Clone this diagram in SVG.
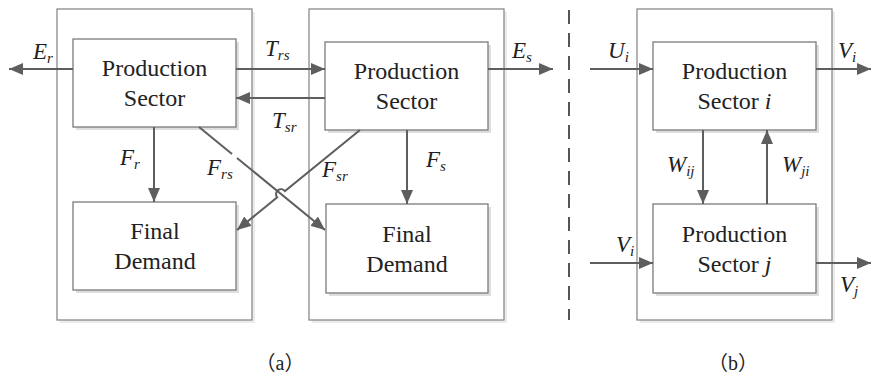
<svg xmlns="http://www.w3.org/2000/svg" width="872" height="380" viewBox="0 0 872 380">
<defs>
<marker id="ah" viewBox="0 0 14 12" refX="14" refY="6" markerWidth="14" markerHeight="12" markerUnits="userSpaceOnUse" orient="auto">
<path d="M0,0 L14,6 L0,12 z" fill="#5e5e5e"/>
</marker>
</defs>
<rect width="872" height="380" fill="#fff"/>

<g id="outer-boxes" fill="#fff" stroke="#8a8a8a" stroke-width="1.3">
<g id="outer-r"><rect x="60" y="12" width="195" height="311" fill="#ececec" stroke="none"/><rect x="57" y="9" width="195" height="311"/></g>
<g id="outer-s"><rect x="312" y="12" width="195" height="311" fill="#ececec" stroke="none"/><rect x="309" y="9" width="195" height="311"/></g>
<g id="outer-b"><rect x="640" y="12" width="195" height="311" fill="#ececec" stroke="none"/><rect x="637" y="9" width="195" height="311"/></g>
</g>
<line id="divider" x1="569" y1="10" x2="569" y2="320" stroke="#555" stroke-width="2" stroke-dasharray="14,9"/>

<g id="prod-r">
<rect x="76" y="42" width="163" height="88" fill="#dedede"/>
<rect x="73" y="39" width="163" height="88" fill="#fff" stroke="#7a7a7a" stroke-width="1.3"/>
<text x="154.5" y="76" font-family="Liberation Serif" font-size="24" text-anchor="middle" fill="#222">Production</text>
<text x="154.5" y="106" font-family="Liberation Serif" font-size="24" text-anchor="middle" fill="#222">Sector</text>
</g>
<g id="final-r">
<rect x="76" y="205" width="163" height="88" fill="#dedede"/>
<rect x="73" y="202" width="163" height="88" fill="#fff" stroke="#7a7a7a" stroke-width="1.3"/>
<text x="155" y="239" font-family="Liberation Serif" font-size="24" text-anchor="middle" fill="#222">Final</text>
<text x="155" y="269" font-family="Liberation Serif" font-size="24" text-anchor="middle" fill="#222">Demand</text>
</g>
<g id="prod-s">
<rect x="328" y="45" width="163" height="88" fill="#dedede"/>
<rect x="325" y="42" width="163" height="88" fill="#fff" stroke="#7a7a7a" stroke-width="1.3"/>
<text x="406.5" y="79" font-family="Liberation Serif" font-size="24" text-anchor="middle" fill="#222">Production</text>
<text x="406.5" y="109" font-family="Liberation Serif" font-size="24" text-anchor="middle" fill="#222">Sector</text>
</g>
<g id="final-s">
<rect x="329" y="207" width="162" height="89" fill="#dedede"/>
<rect x="326" y="204" width="162" height="89" fill="#fff" stroke="#7a7a7a" stroke-width="1.3"/>
<text x="407" y="242" font-family="Liberation Serif" font-size="24" text-anchor="middle" fill="#222">Final</text>
<text x="407" y="272" font-family="Liberation Serif" font-size="24" text-anchor="middle" fill="#222">Demand</text>
</g>
<g id="prod-i">
<rect x="656" y="45" width="163" height="88" fill="#dedede"/>
<rect x="653" y="42" width="163" height="88" fill="#fff" stroke="#7a7a7a" stroke-width="1.3"/>
<text x="734.5" y="79" font-family="Liberation Serif" font-size="24" text-anchor="middle" fill="#222">Production</text>
<text x="734.5" y="109" font-family="Liberation Serif" font-size="24" text-anchor="middle" fill="#222">Sector <tspan font-style="italic">i</tspan></text>
</g>
<g id="prod-j">
<rect x="656" y="207" width="163" height="89" fill="#dedede"/>
<rect x="653" y="204" width="163" height="89" fill="#fff" stroke="#7a7a7a" stroke-width="1.3"/>
<text x="734.5" y="242" font-family="Liberation Serif" font-size="24" text-anchor="middle" fill="#222">Production</text>
<text x="734.5" y="272" font-family="Liberation Serif" font-size="24" text-anchor="middle" fill="#222">Sector <tspan font-style="italic">j</tspan></text>
</g>

<g id="connectors" stroke="#5e5e5e" stroke-width="2" fill="none">
<line x1="73" y1="69" x2="9" y2="69" marker-end="url(#ah)"/>
<line x1="236" y1="69" x2="325" y2="69" marker-end="url(#ah)"/>
<line x1="325" y1="98" x2="236" y2="98" marker-end="url(#ah)"/>
<line x1="488" y1="69" x2="553" y2="69" marker-end="url(#ah)"/>
<line x1="154" y1="127" x2="154" y2="202" marker-end="url(#ah)"/>
<line x1="407" y1="130" x2="407" y2="204" marker-end="url(#ah)"/>
<path d="M199,127 L232,154"/>
<path d="M237,158 L325,230" marker-end="url(#ah)"/>
<path d="M360,130 L285,191 A5,5 0 0 0 277.2,197.4 L237,230" marker-end="url(#ah)"/>
<line x1="590" y1="69" x2="653" y2="69" marker-end="url(#ah)"/>
<line x1="816" y1="69" x2="871" y2="69" marker-end="url(#ah)"/>
<line x1="703" y1="130" x2="703" y2="204" marker-end="url(#ah)"/>
<line x1="767" y1="204" x2="767" y2="130" marker-end="url(#ah)"/>
<line x1="590" y1="263" x2="653" y2="263" marker-end="url(#ah)"/>
<line x1="816" y1="263" x2="871" y2="263" marker-end="url(#ah)"/>
</g>

<g id="labels" fill="#222">
<text x="33" y="59" font-family="Liberation Serif" font-size="23" font-style="italic">E<tspan font-size="15" dy="4">r</tspan></text>
<text x="265" y="56" font-family="Liberation Serif" font-size="23" font-style="italic">T<tspan font-size="15" dy="4">rs</tspan></text>
<text x="272" y="128" font-family="Liberation Serif" font-size="23" font-style="italic">T<tspan font-size="15" dy="4">sr</tspan></text>
<text x="512" y="58" font-family="Liberation Serif" font-size="23" font-style="italic">E<tspan font-size="15" dy="4">s</tspan></text>
<text x="120" y="165" font-family="Liberation Serif" font-size="23" font-style="italic">F<tspan font-size="15" dy="4">r</tspan></text>
<text x="207" y="175" font-family="Liberation Serif" font-size="23" font-style="italic">F<tspan font-size="15" dy="4">rs</tspan></text>
<text x="322" y="177" font-family="Liberation Serif" font-size="23" font-style="italic">F<tspan font-size="15" dy="4">sr</tspan></text>
<text x="426" y="167" font-family="Liberation Serif" font-size="23" font-style="italic">F<tspan font-size="15" dy="4">s</tspan></text>
<text x="608" y="58" font-family="Liberation Serif" font-size="23" font-style="italic">U<tspan font-size="15" dy="4">i</tspan></text>
<text x="838" y="58" font-family="Liberation Serif" font-size="23" font-style="italic">V<tspan font-size="15" dy="4">i</tspan></text>
<text x="667" y="172" font-family="Liberation Serif" font-size="23" font-style="italic">W<tspan font-size="15" dy="4">ij</tspan></text>
<text x="782" y="172" font-family="Liberation Serif" font-size="23" font-style="italic">W<tspan font-size="15" dy="4">ji</tspan></text>
<text x="616" y="252" font-family="Liberation Serif" font-size="23" font-style="italic">V<tspan font-size="15" dy="4">i</tspan></text>
<text x="840" y="292" font-family="Liberation Serif" font-size="23" font-style="italic">V<tspan font-size="15" dy="4">j</tspan></text>
</g>
<g id="captions" fill="#222">
<text x="280" y="370" font-family="Liberation Serif, Noto Sans CJK SC, serif" font-size="20" text-anchor="middle">（a）</text>
<text x="733" y="370" font-family="Liberation Serif, Noto Sans CJK SC, serif" font-size="20" text-anchor="middle">（b）</text>
</g>
</svg>
